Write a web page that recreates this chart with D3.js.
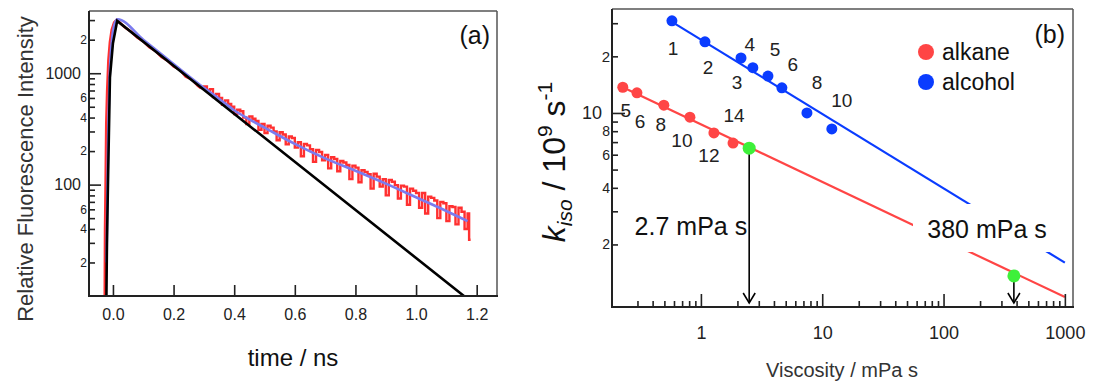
<!DOCTYPE html>
<html>
<head>
<meta charset="utf-8">
<script src="https://cdnjs.cloudflare.com/ajax/libs/d3/7.8.5/d3.min.js"></script>
<style>
  body { margin: 0; background: #fff; }
  svg { display: block; font-family: Arial, "Liberation Sans", sans-serif; }
</style>
</head>
<body>
<div id="chart"></div>
<script>
// ---------- panel (a): decay traces, [time ns, intensity] ----------
const blackTrace = [[-0.0215,10],[-0.0198,30],[-0.0165,100],[-0.0099,920],[0,1860],[0.0139,2950],[1.158,10]];
const blueFit = [[-0.021,20],[-0.019,60],[-0.016,250],[-0.011,900],[-0.004,1900],[0.005,2750],[0.015,3050],
  [0.1,2000],[0.2,1210],[0.3,740],[0.35,590],[0.4,465],[0.45,385],[0.5,325],[0.6,232],[0.7,172],
  [0.8,133],[0.9,102],[1.0,77],[1.1,58],[1.17,47]];
const redTrace = [[-0.027,10],[-0.026,40],[-0.024,110],[-0.022,350],[-0.019,700],[-0.015,1300],[-0.01,1900],
  [-0.004,2450],[0.004,2850],[0.012,3000],[0.02,2880],[0.04,2570],[0.06,2360],[0.08,2090],[0.10,1930],
  [0.12,1710],[0.14,1590],[0.16,1400],[0.18,1300],[0.20,1150],[0.22,1080],[0.24,930],[0.26,880],[0.28,770],
  [0.29,735],[0.30,760],[0.31,700],[0.32,720],[0.33,610],[0.34,650],[0.35,600],[0.36,520],[0.37,570],
  [0.38,530],[0.39,500],[0.40,430],[0.41,470],[0.42,455],[0.43,400],[0.44,350],[0.45,410],[0.46,390],
  [0.47,372],[0.48,310],[0.49,350],[0.50,290],[0.51,338],[0.52,325],[0.53,300],[0.54,250],[0.55,295],
  [0.56,282],[0.57,230],[0.58,270],[0.59,262],[0.60,215],[0.61,240],[0.62,180],[0.63,232],[0.64,225],
  [0.65,208],[0.66,160],[0.67,205],[0.68,196],[0.69,165],[0.70,185],[0.71,140],[0.72,176],[0.73,170],
  [0.74,132],[0.75,163],[0.76,158],[0.77,150],[0.78,112],[0.79,148],[0.80,142],[0.81,105],[0.82,135],
  [0.83,130],[0.84,124],[0.85,92],[0.86,125],[0.87,118],[0.88,96],[0.89,112],[0.90,80],[0.91,110],
  [0.92,106],[0.93,99],[0.94,75],[0.95,98],[0.96,96],[0.97,66],[0.98,92],[0.99,88],[1.00,84],
  [1.01,62],[1.02,84],[1.03,55],[1.04,78],[1.05,76],[1.06,72],[1.07,50],[1.08,70],[1.09,68],[1.10,47],
  [1.11,64],[1.12,63],[1.13,44],[1.14,62],[1.15,57],[1.16,40],[1.17,55],[1.175,32],[1.18,32]];
const noisyFrom = 0.29; // where the red trace turns into the noisy step part
const timeTicks = [0, 0.2, 0.4, 0.6, 0.8, 1.0, 1.2];
const intensityMajor = [100, 1000];
const intensityMinor = [20,30,40,50,60,70,80,90,200,300,400,500,600,700,800,900,2000,3000];
const intensityMinorLabelled = [20,40,60,200,400,600,2000];

// ---------- panel (b): k_iso vs viscosity ----------
const alcoholVisc = [0.577, 1.08, 2.14, 2.68, 3.57, 4.65, 7.48, 12.0];
const alcoholK = [30.9, 23.9, 19.6, 17.4, 15.7, 13.6, 10.0, 8.22];
const alcoholLabels = ["1", "2", "3", "4", "5", "6", "8", "10"];
const alkaneVisc = [0.227, 0.297, 0.495, 0.812, 1.28, 1.84];
const alkaneK = [13.7, 12.8, 11.0, 9.5, 7.83, 6.92];
const alkaneLabels = ["5", "6", "8", "10", "12", "14"];
const alcoholFit = [[0.577, 30.5], [1000, 1.6]];
const alkaneFit = [[0.227, 13.7], [1000, 1.05]];
const targetVisc = [2.5, 380];
const targetK = [6.5, 1.36];
const targetText = ["2.7 mPa s", "380 mPa s"];
const viscMajor = [1, 10, 100, 1000];
const viscMinor = [0.3,0.4,0.5,0.6,0.7,0.8,0.9,2,3,4,5,6,7,8,9,20,30,40,50,60,70,80,90,200,300,400,500,600,700,800,900];
const kMajor = [10];
const kMinor = [2,3,4,5,6,7,8,9,20,30];

// label offsets from their points (px)
const alcoholLabelOff = [[1,28],[3,26],[-4,24],[-3,-23],[7,-27],[11,-23],[10,-31],[10,-29]];
const alkaneLabelOff = [[3,23],[3,29],[-3,19],[-8,23],[-5,22],[1,-28]];

const RED = "#ff3030", BLUE_FIT = "#7b7bef", ALK = "#ff4545", ALC = "#0a3cff", GREEN = "#3ef03a", INK = "#222";

const svg = d3.select("#chart").append("svg").attr("width", 1104).attr("height", 384);

function styleAxis(g, fs) {
  g.select(".domain").remove();
  g.selectAll(".tick line").attr("stroke", INK).attr("stroke-width", 1.6);
  g.selectAll(".tick text").attr("fill", INK).style("font-size", fs + "px").style("font-family", "Arial, 'Liberation Sans', sans-serif");
}

function frame(x0, x1, y0, y1) {
  svg.append("line").attr("x1", x0).attr("x2", x1).attr("y1", y0).attr("y2", y0).attr("stroke", "#555").attr("stroke-width", 1.5);
  svg.append("line").attr("x1", x1).attr("x2", x1).attr("y1", y0).attr("y2", y1).attr("stroke", "#555").attr("stroke-width", 1.5);
  svg.append("line").attr("x1", x0).attr("x2", x0).attr("y1", y0).attr("y2", y1 + 1).attr("stroke", INK).attr("stroke-width", 2);
  svg.append("line").attr("x1", x0 - 1).attr("x2", x1 + 1).attr("y1", y1).attr("y2", y1).attr("stroke", INK).attr("stroke-width", 2);
}

/////////////////////// panel (a) ///////////////////////
const xA = d3.scaleLinear().domain([-0.079, 1.267]).range([89, 497]);
const yA = d3.scaleLog().domain([10, 3620]).range([296, 11]);

svg.append("clipPath").attr("id", "clipA").append("rect")
  .attr("x", 89).attr("y", 11).attr("width", 408).attr("height", 285);

const plotA = svg.append("g").attr("clip-path", "url(#clipA)");
const lineA = d3.line().x(d => xA(d[0])).y(d => yA(d[1]));

// smooth early part, step-shaped noisy tail
plotA.append("path").datum(redTrace.filter(d => d[0] <= noisyFrom)).attr("d", lineA.curve(d3.curveLinear))
  .attr("fill", "none").attr("stroke", RED).attr("stroke-width", 2.6);
plotA.append("path").datum(redTrace.filter(d => d[0] >= noisyFrom)).attr("d", lineA.curve(d3.curveStepAfter))
  .attr("fill", "none").attr("stroke", RED).attr("stroke-width", 2.4);
plotA.append("path").datum(blueFit).attr("d", lineA.curve(d3.curveMonotoneX))
  .attr("fill", "none").attr("stroke", BLUE_FIT).attr("stroke-width", 2.6);
plotA.append("path").datum(blackTrace).attr("d", lineA.curve(d3.curveLinear))
  .attr("fill", "none").attr("stroke", "#000").attr("stroke-width", 2.6);

svg.append("g").attr("transform", "translate(0,296)")
  .call(d3.axisBottom(xA).tickValues(timeTicks).tickFormat(d3.format(".1f")).tickSize(-11).tickPadding(13))
  .call(g => styleAxis(g, 16));

svg.append("g").attr("transform", "translate(89,0)")
  .call(d3.axisLeft(yA).tickValues(intensityMajor).tickFormat(d3.format("d")).tickSize(-12).tickPadding(8))
  .call(g => styleAxis(g, 16));
svg.append("g").attr("transform", "translate(89,0)")
  .call(d3.axisLeft(yA).tickValues(intensityMinor)
    .tickFormat(d => intensityMinorLabelled.includes(d) ? String(d).charAt(0) : "")
    .tickSize(-6).tickPadding(2))
  .call(g => styleAxis(g, 12));

frame(89, 497, 11, 296);

svg.append("text").attr("transform", "translate(33,169) rotate(-90)")
  .attr("text-anchor", "middle").style("font-size", "22px").attr("fill", "#333")
  .text("Relative Fluorescence Intensity");
svg.append("text").attr("x", 293).attr("y", 366).attr("text-anchor", "middle")
  .style("font-size", "24px").attr("fill", "#111").text("time / ns");
svg.append("text").attr("x", 490).attr("y", 44).attr("text-anchor", "end")
  .style("font-size", "25px").attr("fill", "#111").text("(a)");

/////////////////////// panel (b) ///////////////////////
const xB = d3.scaleLog().domain([0.185, 1167]).range([612, 1073]);
const yB = d3.scaleLog().domain([0.93, 35.7]).range([307, 9]);
const lineB = d3.line().x(d => xB(d[0])).y(d => yB(d[1]));

svg.append("clipPath").attr("id", "clipB").append("rect")
  .attr("x", 612).attr("y", 9).attr("width", 461).attr("height", 298);
const plotB = svg.append("g").attr("clip-path", "url(#clipB)");

plotB.append("path").datum(alkaneFit).attr("d", lineB).attr("fill", "none").attr("stroke", ALK).attr("stroke-width", 2.2);
plotB.append("path").datum(alcoholFit).attr("d", lineB).attr("fill", "none").attr("stroke", ALC).attr("stroke-width", 2.2);

plotB.selectAll(".alc").data(alcoholVisc).enter().append("circle")
  .attr("cx", d => xB(d)).attr("cy", (d, i) => yB(alcoholK[i])).attr("r", 5.5).attr("fill", ALC);
plotB.selectAll(".alk").data(alkaneVisc).enter().append("circle")
  .attr("cx", d => xB(d)).attr("cy", (d, i) => yB(alkaneK[i])).attr("r", 5.5).attr("fill", ALK);

svg.selectAll(".alcLab").data(alcoholLabels).enter().append("text")
  .attr("x", (d, i) => xB(alcoholVisc[i]) + alcoholLabelOff[i][0])
  .attr("y", (d, i) => yB(alcoholK[i]) + alcoholLabelOff[i][1])
  .attr("dy", "0.35em").attr("text-anchor", "middle").style("font-size", "19px").attr("fill", INK).text(d => d);
svg.selectAll(".alkLab").data(alkaneLabels).enter().append("text")
  .attr("x", (d, i) => xB(alkaneVisc[i]) + alkaneLabelOff[i][0])
  .attr("y", (d, i) => yB(alkaneK[i]) + alkaneLabelOff[i][1])
  .attr("dy", "0.35em").attr("text-anchor", "middle").style("font-size", "19px").attr("fill", INK).text(d => d);

// white box behind the 380 label cuts both fit lines
svg.append("rect").attr("x", 913).attr("y", 204).attr("width", 137).attr("height", 48).attr("fill", "#fff");

// arrows down to the axis
targetVisc.forEach((v, i) => {
  const x = xB(v), y0 = yB(targetK[i]), tip = 303;
  svg.append("line").attr("x1", x).attr("x2", x).attr("y1", y0).attr("y2", tip)
    .attr("stroke", "#000").attr("stroke-width", 1.6);
  svg.append("path").attr("d", `M${x - 6},${tip - 10}L${x},${tip}L${x + 6},${tip - 10}`)
    .attr("fill", "none").attr("stroke", "#000").attr("stroke-width", 1.6);
});
svg.selectAll(".tgt").data(targetVisc).enter().append("circle")
  .attr("cx", d => xB(d)).attr("cy", (d, i) => yB(targetK[i])).attr("r", 6.5).attr("fill", GREEN);

svg.append("text").attr("x", xB(targetVisc[0]) - 2).attr("y", 235).attr("text-anchor", "end")
  .style("font-size", "25px").attr("fill", "#111").text(targetText[0]);
svg.append("text").attr("x", 987).attr("y", 238).attr("text-anchor", "middle")
  .style("font-size", "25px").attr("fill", "#111").text(targetText[1]);

svg.append("g").attr("transform", "translate(0,307)")
  .call(d3.axisBottom(xB).tickValues(viscMajor).tickFormat(d3.format("d")).tickSize(-13).tickPadding(19))
  .call(g => styleAxis(g, 18));
svg.append("g").attr("transform", "translate(0,307)")
  .call(d3.axisBottom(xB).tickValues(viscMinor).tickFormat("").tickSize(-6))
  .call(g => styleAxis(g, 12));

svg.append("g").attr("transform", "translate(612,0)")
  .call(d3.axisLeft(yB).tickValues(kMajor).tickFormat(d3.format("d")).tickSize(-13).tickPadding(10))
  .call(g => styleAxis(g, 18));
svg.append("g").attr("transform", "translate(612,0)")
  .call(d3.axisLeft(yB).tickValues(kMinor)
    .tickFormat(d => (d === 20 || [2, 4, 6, 8].includes(d)) ? String(d).charAt(0) : "")
    .tickSize(-6).tickPadding(2))
  .call(g => styleAxis(g, 14))
  .call(g => g.selectAll(".tick text").filter(d => d === 20).style("font-size", "15px"));

frame(612, 1073, 9, 307);

// y title with italic k_iso, superscripts
const yt = svg.append("text").attr("transform", "translate(565,162) rotate(-90)")
  .attr("text-anchor", "middle").style("font-size", "32px").attr("fill", "#111");
yt.append("tspan").style("font-style", "italic").text("k");
yt.append("tspan").style("font-style", "italic").style("font-size", "21px").attr("dy", 7).text("iso");
yt.append("tspan").attr("dy", -7).text(" / 10");
yt.append("tspan").style("font-size", "21px").attr("dy", -13).text("9");
yt.append("tspan").attr("dy", 13).text(" s");
yt.append("tspan").style("font-size", "21px").attr("dy", -13).text("-1");

svg.append("text").attr("x", 842).attr("y", 377).attr("text-anchor", "middle")
  .style("font-size", "20px").attr("fill", "#333").text("Viscosity / mPa s");
svg.append("text").attr("x", 1065).attr("y", 43).attr("text-anchor", "end")
  .style("font-size", "25px").attr("fill", "#111").text("(b)");

// legend
const legend = [["alkane", ALK], ["alcohol", ALC]];
legend.forEach((d, i) => {
  svg.append("circle").attr("cx", 926).attr("cy", 52 + i * 30).attr("r", 8).attr("fill", d[1]);
  svg.append("text").attr("x", 942).attr("y", 60 + i * 30).style("font-size", "23px").attr("fill", "#111").text(d[0]);
});
</script>
</body>
</html>
